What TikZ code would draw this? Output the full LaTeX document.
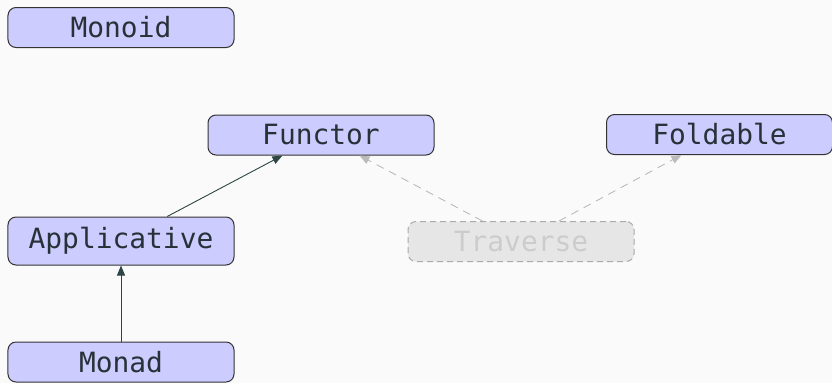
\documentclass[tikz,border=0pt]{standalone}
\usepackage{fontspec}
\setmonofont{DejaVu Sans Mono}
\usetikzlibrary{arrows.meta}
\definecolor{bgcol}{HTML}{FAFAFA}
\definecolor{boxfill}{HTML}{CCCCFF}
\definecolor{boxline}{HTML}{333333}
\definecolor{textcol}{HTML}{263238}
\definecolor{edgecol}{HTML}{2F4444}
\definecolor{ghostfill}{HTML}{E6E6E6}
\definecolor{ghostline}{HTML}{AAAAAA}
\definecolor{ghosttext}{HTML}{CCCCCC}
\definecolor{ghostedge}{HTML}{BBBBBB}
\tikzset{
  cls/.style={draw=boxline, fill=boxfill, line width=1bp, rounded corners=8bp,
    minimum width=226bp, minimum height=40bp, inner sep=0pt,
    text=textcol, font=\ttfamily\fontsize{28}{32}\selectfont},
  ghost/.style={cls, draw=ghostline, fill=ghostfill, text=ghosttext,
    dash pattern=on 6bp off 4bp},
  inherit/.style={draw=edgecol, line width=0.9bp,
    -{Triangle[length=10bp,width=8bp]}},
  ghostinherit/.style={draw=ghostedge, line width=0.9bp,
    dash pattern=on 8bp off 6bp,
    -{Triangle[length=10bp,width=8bp]}},
}
\begin{document}
\begin{tikzpicture}[x=1bp, y=-1bp]
  \fill[bgcol] (0,0) rectangle (832,383);
  \useasboundingbox (0,0) rectangle (832,383);

  \node[cls] (monoid) at (121,27.5) {Monoid};
  \node[cls] (functor) at (321,135) {Functor};
  \node[cls] (foldable) at (719.5,134.5) {Foldable};
  \node[cls, minimum height=48bp] (applicative) at (121,241) {Applicative};
  \node[ghost] (traverse) at (521,241.5) {Traverse};
  \node[cls] (monad) at (121,362) {Monad};

  \draw[inherit] (applicative) -- (functor);
  \draw[inherit] (monad) -- (applicative);
  \draw[ghostinherit] (traverse) -- (functor);
  \draw[ghostinherit] (traverse) -- (foldable);
\end{tikzpicture}
\end{document}
